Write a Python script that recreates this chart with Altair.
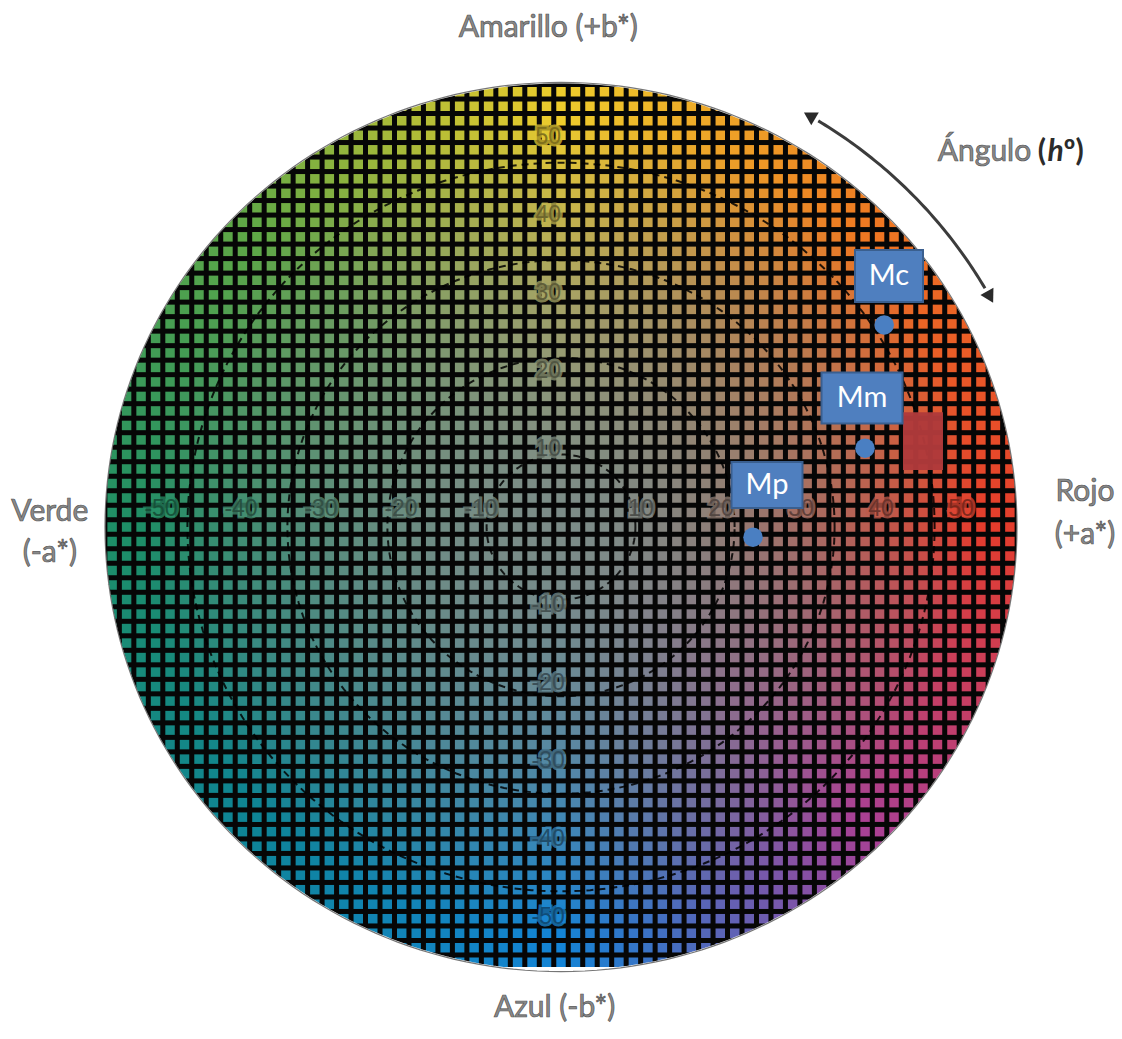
import numpy as np
import pandas as pd
import altair as alt

# ---- chart values -------------------------------------------------------
TICK_VALUES = [-50, -40, -30, -20, -10, 10, 20, 30, 40, 50]

SAMPLE_NAMES = ["Mp", "Mm", "Mc"]
SAMPLE_A = [24.0, 38.0, 40.4]      # a* of each sample
SAMPLE_B = [-1.3, 10.1, 25.9]      # b* of each sample

PATCH_A = [42.75, 47.75]           # reference colour patch, a* extent
PATCH_B = [7.3, 14.7]              # reference colour patch, b* extent

RING_RADII = [9.3, 21.7, 34.2, 46.7]   # chroma circles
DISK_RADIUS = 57.0                      # edge of the colour disk
CELL_A, CELL_B = 1.81, 1.86             # mosaic pitch in a*/b* units

# hue anchors of the colour disk (degrees from +a*, counter-clockwise)
HUE_DEG = [0, 45, 90, 135, 180, 225, 270, 315, 360]
HUE_RGB = [
    (228, 60, 44), (238, 120, 34), (238, 204, 44), (96, 168, 70),
    (30, 142, 102), (14, 132, 150), (20, 132, 214), (170, 64, 148),
    (228, 60, 44),
]
CENTRE_RGB = (124, 140, 136)

# ---- drawing helpers -----------------------------------------------------
PX_A, PX_B = 8.0, 7.8            # pixels per unit on each axis
W, H = 1122, 1039
CX, CY = 561, 527
XS = alt.Scale(domain=[-CX / PX_A, (W - CX) / PX_A], nice=False, zero=False)
YS = alt.Scale(domain=[-(H - CY) / PX_B, CY / PX_B], nice=False, zero=False)
GAP_PX = 5.0                     # black line between mosaic tiles


def X(f):
    return alt.X(f, type="quantitative", scale=XS, axis=None)


def Y(f):
    return alt.Y(f, type="quantitative", scale=YS, axis=None)


def disk_colour(a, b):
    h = np.degrees(np.arctan2(b, a)) % 360
    edge = np.array([np.interp(h, HUE_DEG, [c[k] for c in HUE_RGB]) for k in range(3)])
    t = min(1.0, np.hypot(a, b) / 52.0) ** 1.7
    return np.array(CENTRE_RGB) + (edge - np.array(CENTRE_RGB)) * t


def to_hex(rgb):
    r, g, b = [int(max(0, min(255, round(v)))) for v in rgb]
    return f"#{r:02x}{g:02x}{b:02x}"


def circle_df(r, n=241, t0=0.0, t1=360.0, group=0):
    t = np.radians(np.linspace(t0, t1, n))
    return pd.DataFrame(dict(a=r * np.cos(t), b=r * np.sin(t), k=np.arange(n), g=group))


# black backing disk: a thick stroke (run past a full turn so it has no seam)
back_layer = alt.Chart(circle_df(DISK_RADIUS / 2 + 0.6, n=300, t1=400)).mark_line(
    color="#060606", strokeWidth=DISK_RADIUS * PX_A + 16).encode(
    x=X("a"), y=Y("b"), order=alt.Order("k:Q"))

# mosaic tiles, inset so the black backing shows between them
ia = CELL_A / 2 - GAP_PX / 2 / PX_A
ib = CELL_B / 2 - GAP_PX / 2 / PX_B
rows = []
for i in range(-34, 35):
    for j in range(-34, 35):
        a, b = i * CELL_A, j * CELL_B
        if np.hypot(a, b) <= DISK_RADIUS + 1.6:
            rows.append(dict(a=a - ia, a2=a + ia, b=b - ib, b2=b + ib,
                             c=to_hex(disk_colour(a, b))))
cells = pd.DataFrame(rows)

cell_layer = alt.Chart(cells).mark_rect().encode(
    x=X("a"), x2=alt.X2("a2"), y=Y("b"), y2=alt.Y2("b2"),
    color=alt.Color("c:N", scale=None))

rings = pd.concat([circle_df(r, group=i) for i, r in enumerate(RING_RADII)])
ring_layer = alt.Chart(rings).mark_line(
    color="#000000", strokeWidth=2, strokeDash=[7, 5], opacity=0.85).encode(
    x=X("a"), y=Y("b"), detail="g:N", order=alt.Order("k:Q"))

# white band that trims the mosaic to a round disk
mask_r = DISK_RADIUS + 3.2
mask_layer = alt.Chart(circle_df(mask_r, n=270, t1=400)).mark_line(
    color="white", strokeWidth=52).encode(
    x=X("a"), y=Y("b"), order=alt.Order("k:Q"))
flat = pd.DataFrame(dict(a=[-30.0], a2=[30.0], b=[-56.4], b2=[-64.0]))
flat_layer = alt.Chart(flat).mark_rect(color="white").encode(
    x=X("a"), x2=alt.X2("a2"), y=Y("b"), y2=alt.Y2("b2"))
rim_layer = alt.Chart(circle_df(DISK_RADIUS)).mark_line(
    color="#1a1a1a", strokeWidth=1.2, opacity=0.6).encode(
    x=X("a"), y=Y("b"), order=alt.Order("k:Q"))

# axis numbers printed on the disk, with a soft halo of the local tile colour
lab_rows = []
for v in TICK_VALUES:
    for a, b in ((v, 2.3), (-1.6, v)):
        base = disk_colour(a, b)
        lab_rows.append(dict(a=a, b=b, t=str(v),
                             c=to_hex(base * 0.55), halo=to_hex(base)))
labels = pd.DataFrame(lab_rows)
halo_layer = alt.Chart(labels).mark_text(
    font="Liberation Sans", fontSize=23, strokeWidth=5, opacity=0.75).encode(
    x=X("a"), y=Y("b"), text="t:N",
    stroke=alt.Stroke("halo:N", scale=None), color=alt.Color("halo:N", scale=None))
label_layer = alt.Chart(labels).mark_text(
    font="Liberation Sans", fontSize=23, opacity=0.92).encode(
    x=X("a"), y=Y("b"), text="t:N", color=alt.Color("c:N", scale=None))

# reference colour patch
patch = pd.DataFrame(dict(a=[PATCH_A[0]], a2=[PATCH_A[1]], b=[PATCH_B[0]], b2=[PATCH_B[1]]))
patch_layer = alt.Chart(patch).mark_rect(color="#b03a3b", opacity=0.97).encode(
    x=X("a"), x2=alt.X2("a2"), y=Y("b"), y2=alt.Y2("b2"))

samples = pd.DataFrame(dict(name=SAMPLE_NAMES, a=SAMPLE_A, b=SAMPLE_B))
point_layer = alt.Chart(samples).mark_point(
    filled=True, size=380, color="#4a7fc2", opacity=1).encode(x=X("a"), y=Y("b"))

# name tags above the samples (centre and size in pixels)
TAG_CX = [767, 862, 889]
TAG_CY = [485, 398, 276]
TAG_W = [71, 81, 68]
TAG_H = [46, 51, 52]
tags = pd.DataFrame(dict(
    name=SAMPLE_NAMES,
    a=[(cx - w / 2 - CX) / PX_A for cx, w in zip(TAG_CX, TAG_W)],
    a2=[(cx + w / 2 - CX) / PX_A for cx, w in zip(TAG_CX, TAG_W)],
    b=[(CY - cy - h / 2) / PX_B for cy, h in zip(TAG_CY, TAG_H)],
    b2=[(CY - cy + h / 2) / PX_B for cy, h in zip(TAG_CY, TAG_H)],
    ac=[(cx - CX) / PX_A for cx in TAG_CX],
    bc=[(CY - cy) / PX_B for cy in TAG_CY],
))
tag_box = alt.Chart(tags).mark_rect(color="#4f7fbf", stroke="#3a5f8f", strokeWidth=2).encode(
    x=X("a"), x2=alt.X2("a2"), y=Y("b"), y2=alt.Y2("b2"))
tag_text = alt.Chart(tags).mark_text(
    font="Lato", fontSize=29, color="white", baseline="middle").encode(
    x=X("ac"), y=Y("bc"), text="name:N")

# hue-angle arrow
ARC_R, ARC_T0, ARC_T1 = 61.2, 28.8, 59.5
arc = circle_df(ARC_R, n=60, t0=ARC_T0 + 1.2, t1=ARC_T1 - 1.2)
arc_layer = alt.Chart(arc).mark_line(color="#3c3c3c", strokeWidth=3).encode(
    x=X("a"), y=Y("b"), order=alt.Order("k:Q"))
heads = pd.DataFrame(dict(
    a=[ARC_R * np.cos(np.radians(ARC_T1)), ARC_R * np.cos(np.radians(ARC_T0))],
    b=[ARC_R * np.sin(np.radians(ARC_T1)), ARC_R * np.sin(np.radians(ARC_T0))],
    ang=[360 - ARC_T1, 180 - ARC_T0]))
head_layer = alt.Chart(heads).mark_point(
    shape="triangle-up", filled=True, size=220, color="#2a2a2a", opacity=1).encode(
    x=X("a"), y=Y("b"), angle=alt.Angle("ang:Q", scale=None))

# axis names around the disk
titles = pd.DataFrame(dict(
    t=["Amarillo (+b*)", "Azul (-b*)", "Verde", "(-a*)", "Rojo", "(+a*)"],
    a=[-1.6, -0.8, -63.9, -63.9, 65.5, 65.5],
    b=[64.0, -61.7, 1.9, -3.3, 4.5, -1.0]))
TITLE_STYLE = dict(font="Lato", fontSize=30, color="#8a8a8a", stroke="#555555",
                   strokeWidth=0.7, baseline="middle")
title_layer = alt.Chart(titles).mark_text(**TITLE_STYLE).encode(
    x=X("a"), y=Y("b"), text="t:N")

angle_word = alt.Chart(pd.DataFrame(dict(a=[47.1], b=[48.1], t=["Ángulo"]))).mark_text(
    align="left", **TITLE_STYLE).encode(x=X("a"), y=Y("b"), text="t:N")
SYM_STYLE = dict(font="Lato", fontSize=30, fontWeight="bold", color="#2b2b2b",
                 align="left", baseline="middle")
angle_open = alt.Chart(pd.DataFrame(dict(a=[59.6], b=[48.1], t=["("]))).mark_text(
    **SYM_STYLE).encode(x=X("a"), y=Y("b"), text="t:N")
angle_h = alt.Chart(pd.DataFrame(dict(a=[60.8], b=[48.1], t=["h"]))).mark_text(
    fontStyle="italic", **SYM_STYLE).encode(x=X("a"), y=Y("b"), text="t:N")
angle_close = alt.Chart(pd.DataFrame(dict(a=[62.8], b=[48.1], t=["º)"]))).mark_text(
    **SYM_STYLE).encode(x=X("a"), y=Y("b"), text="t:N")

chart = alt.layer(
    back_layer, cell_layer, ring_layer, mask_layer, flat_layer, rim_layer,
    halo_layer, label_layer,
    patch_layer, point_layer, tag_box, tag_text, arc_layer, head_layer,
    title_layer, angle_word, angle_open, angle_h, angle_close,
).properties(
    width=W, height=H, autosize=alt.AutoSizeParams(type="none"), padding=0,
    background="white",
).configure_view(stroke=None)

chart.save("out.html", embed_options={"renderer": "svg", "actions": False})
